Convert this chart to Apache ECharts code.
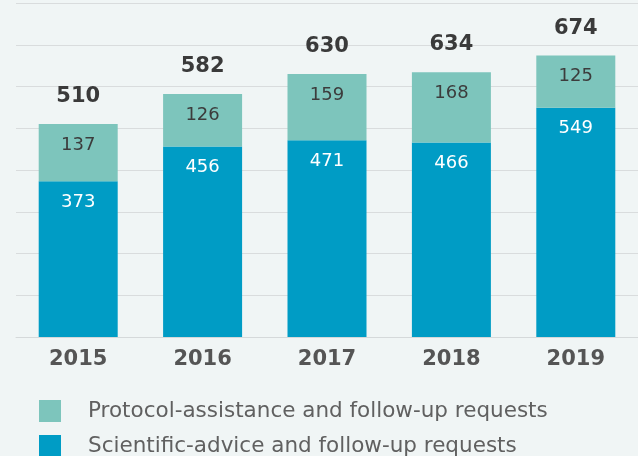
<!DOCTYPE html>
<html>
<head>
<meta charset="utf-8">
<script src="https://cdn.jsdelivr.net/npm/echarts@6/dist/echarts.min.js"></script>
<style>
  html, body { margin: 0; padding: 0; background: #f0f5f5; }
  #main { width: 638px; height: 456px; }
</style>
</head>
<body>
<div id="main"></div>
<script>
// data
const years = ['2015', '2016', '2017', '2018', '2019'];
const scientific = [373, 456, 471, 466, 549];
const protocol = [137, 126, 159, 168, 125];
const totals = [510, 582, 630, 634, 674];

const seriesNames = [
  'Protocol-assistance and follow-up requests',
  'Scientific-advice and follow-up requests'
];

const chart = echarts.init(document.getElementById('main'), null, { renderer: 'canvas' });

const font = 'DejaVu Sans, Verdana, sans-serif';

// one legend per item, so the second one is not wrapped into a new column
function legendRow(name, top) {
  return {
    orient: 'vertical',
    left: 34,
    top: top,
    itemWidth: 22,
    itemHeight: 22,
    icon: 'rect',
    data: [name],
    textStyle: {
      fontFamily: font,
      fontSize: 21.5,
      color: '#606060',
      padding: [0, 0, 0, 22]
    }
  };
}

let option = {
  backgroundColor: '#f0f5f5',
  animation: false,
  grid: {
    left: 16,
    top: 3,
    width: 630,
    bottom: 119,
    containLabel: false
  },
  legend: [
    legendRow(seriesNames[0], 395),
    legendRow(seriesNames[1], 430)
  ],
  xAxis: {
    type: 'category',
    data: years,
    axisLine: { lineStyle: { color: '#d5d9da', width: 1 } },
    axisTick: { show: false },
    axisLabel: {
      fontFamily: font,
      fontSize: 21,
      fontWeight: 'bold',
      color: '#555555',
      margin: 12
    }
  },
  yAxis: {
    type: 'value',
    min: 0,
    max: 800,
    interval: 100,
    axisLabel: { show: false },
    axisLine: { show: false },
    axisTick: { show: false },
    splitLine: { lineStyle: { color: '#d9dcdd', width: 1 } }
  },
  series: [
    {
      name: seriesNames[1],
      type: 'bar',
      stack: 'req',
      barWidth: 79,
      data: scientific,
      itemStyle: { color: '#009cc5' },
      label: {
        show: true,
        position: 'insideTop',
        distance: 12,
        fontFamily: font,
        fontSize: 18,
        color: '#ffffff'
      }
    },
    {
      name: seriesNames[0],
      type: 'bar',
      stack: 'req',
      barWidth: 79,
      data: protocol,
      itemStyle: { color: '#7dc5bc' },
      label: {
        show: true,
        position: 'insideTop',
        distance: 12,
        fontFamily: font,
        fontSize: 18,
        color: '#3c3c3c'
      }
    },
    {
      // invisible bar carrying the total labels
      name: 'total',
      type: 'bar',
      barWidth: 79,
      barGap: '-100%',
      data: totals,
      itemStyle: { color: 'rgba(0,0,0,0)' },
      z: 1,
      silent: true,
      label: {
        show: true,
        position: 'top',
        distance: 17,
        fontFamily: font,
        fontSize: 21,
        fontWeight: 'bold',
        color: '#3a3a3a'
      }
    }
  ]
};

chart.setOption(option);
</script>
</body>
</html>
